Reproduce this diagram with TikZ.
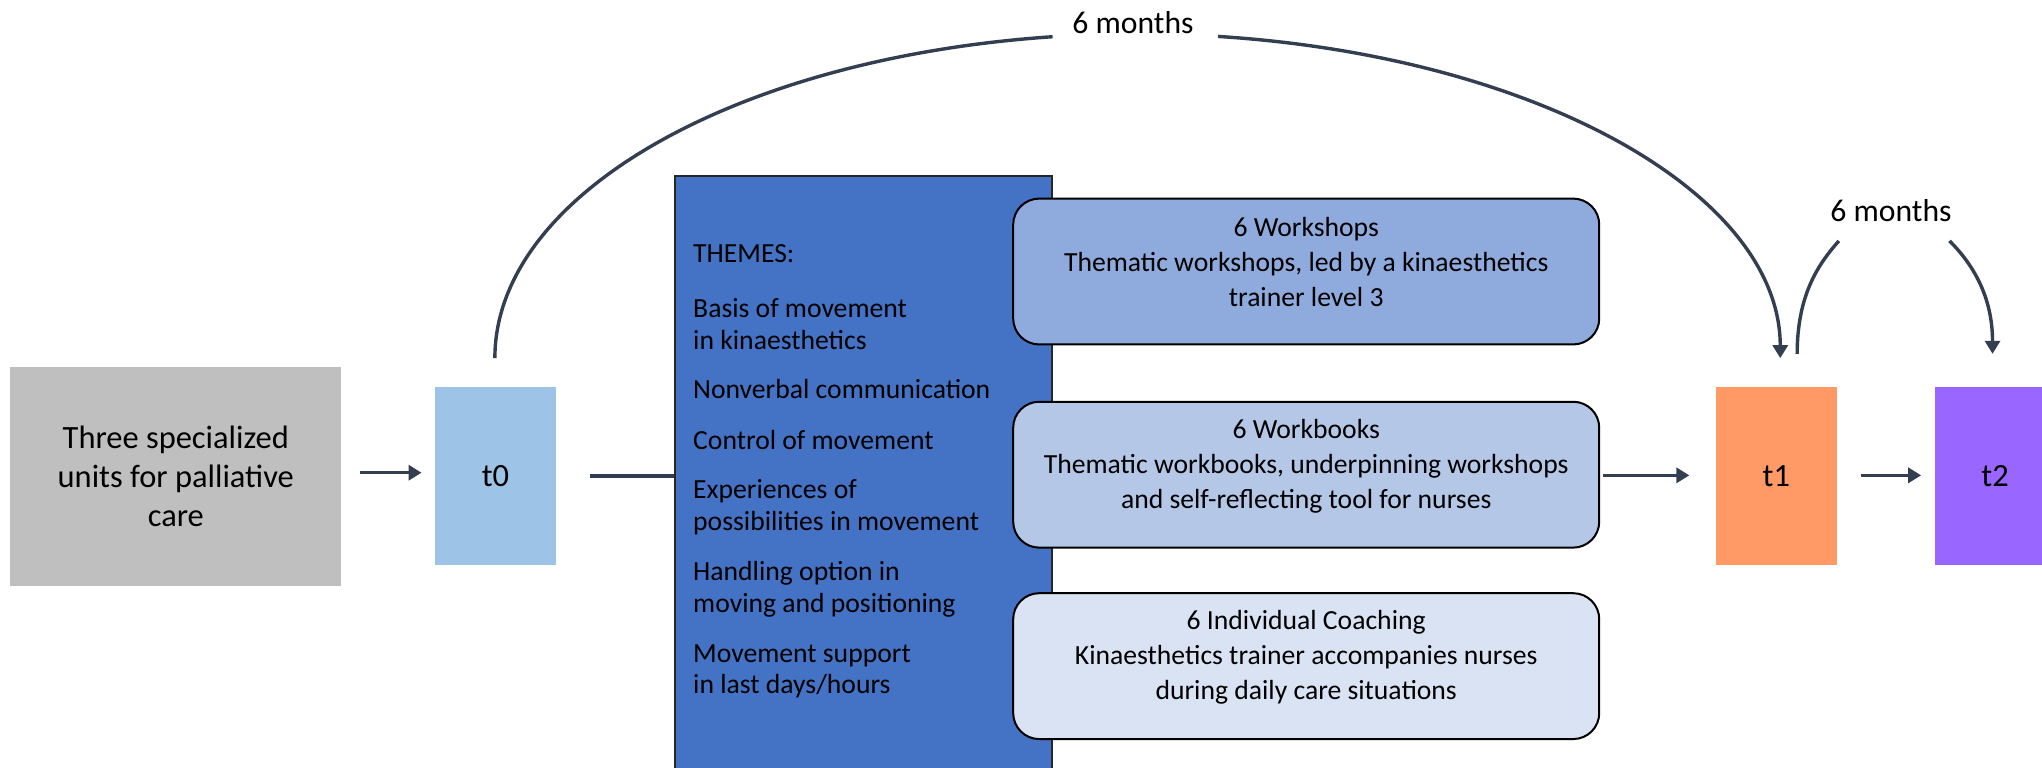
\documentclass[tikz,border=0pt]{standalone}
\usepackage{fontspec}
\setmainfont{Carlito}
\usetikzlibrary{arrows.meta,calc}
\definecolor{grayfill}{HTML}{BFBFBF}
\definecolor{tzero}{HTML}{9DC3E6}
\definecolor{themefill}{HTML}{4472C4}
\definecolor{wsfill}{HTML}{8FAADC}
\definecolor{wbfill}{HTML}{B4C7E7}
\definecolor{cofill}{HTML}{DAE3F3}
\definecolor{tone}{HTML}{FF9966}
\definecolor{ttwo}{HTML}{9966FF}
\definecolor{conncol}{HTML}{333F50}
\begin{document}
\begin{tikzpicture}[x=0.65pt,y=0.65pt,
  font=\fontsize{13.8}{17.5}\selectfont,
  bigfont/.style={font=\fontsize{16.2}{19.5}\selectfont},
  tbox/.style={rectangle, draw=none, minimum width=60.45pt, minimum height=89.05pt, inner sep=0pt, bigfont},
  rbox/.style={rectangle, rounded corners=13pt, draw=black, line width=1pt, minimum width=292.5pt, minimum height=72.8pt, inner sep=0pt},
  boxtext/.style={align=center, inner sep=0pt},
  themetext/.style={anchor=west, align=left, inner sep=0pt, font=\fontsize{13.8}{15.9}\selectfont},
  conn/.style={draw=conncol, line width=1.7pt},
  arr/.style={conn, -{Triangle[length=6.5pt,width=7.5pt]}},
  lbl/.style={inner sep=0pt, font=\fontsize{15.8}{19}\selectfont}
]
\clip (0,0) rectangle (1568,589);
\fill[white] (0,0) rectangle (1568,589);

% left boxes
\node[rectangle, fill=grayfill, minimum width=165.1pt, minimum height=109.2pt, inner sep=0pt, align=center, bigfont] (gray) at (135,223) {Three specialized\\units for palliative\\care};
\node[tbox, fill=tzero] (t0) at (380.5,223.5) {t0};

% themes
\node[rectangle, fill=themefill, draw=black!85, line width=1pt, minimum width=188.5pt, minimum height=301.6pt, inner sep=0pt] (themes) at (663,222) {};
\node[themetext] (th0) at (532,394) {THEMES:};
\node[themetext] (th1) at (532,340) {Basis of movement\\in kinaesthetics};
\node[themetext] (th2) at (532,290) {Nonverbal communication};
\node[themetext] (th3) at (532,251) {Control of movement};
\node[themetext] (th4) at (532,199.5) {Experiences of\\possibilities in movement};
\node[themetext] (th5) at (532,136.5) {Handling option in\\moving and positioning};
\node[themetext] (th6) at (532,73.5) {Movement support\\in last days/hours};

% intervention boxes
\node[rbox, fill=wsfill] (ws) at (1003,380.5) {};
\node[boxtext] (wsT) at (1003,388) {6 Workshops\\Thematic workshops, led by a kinaesthetics\\trainer level 3};
\node[rbox, fill=wbfill] (wb) at (1003,224.5) {};
\node[boxtext] (wbT) at (1003,231) {6 Workbooks\\Thematic workbooks, underpinning workshops\\and self-reflecting tool for nurses};
\node[rbox, fill=cofill] (co) at (1003,77.5) {};
\node[boxtext] (coT) at (1003,84) {6 Individual Coaching\\Kinaesthetics trainer accompanies nurses\\during daily care situations};

% right boxes
\node[tbox, fill=tone] (t1) at (1364,223.5) {t1};
\node[tbox, fill=ttwo] (t2) at (1532,223.5) {t2};

% straight connectors
\draw[arr] ($(gray.east)+(14,3)$) -- ($(t0.west)+(-10,2.5)$);
\draw[conn] ($(t0.east)+(26,0)$) -- (themes.west |- t0.east);
\draw[arr] ($(wb.east)+(2,-0.5)$) -- ($(t1.west)+(-20,0.5)$);
\draw[arr] ($(t1.east)+(18,0.5)$) -- ($(t2.west)+(-10,0.5)$);

% big 6 months arc
\node[lbl] (m1) at (870,572) {6 months};
\coordinate (arcC) at (873.5,314);
\coordinate (a0) at ($(arcC)+(180:493.5 and 249)$);
\coordinate (a2) at ($(arcC)+(82.8:493.5 and 249)$);
\draw[conn] (a0) arc[start angle=180, end angle=97.6, x radius=493.5, y radius=249];
\draw[arr] (a2) arc[start angle=82.8, end angle=0, x radius=493.5, y radius=249];

% small 6 months arcs
\node[lbl] (m2) at (1452,427) {6 months};
\coordinate (b0) at ($(t1.north)+(16,25)$);
\coordinate (b1) at (1412,404);
\coordinate (c0) at (1497,404);
\coordinate (c1) at ($(t2.north)+(-2,25)$);
\draw[conn] (b0) .. controls ($(b0)+(0,45)$) and ($(b1)+(-16,-18)$) .. (b1);
\draw[arr] (c0) .. controls ($(c0)+(17,-17)$) and ($(c1)+(0,45)$) .. (c1);
\end{tikzpicture}
\end{document}
